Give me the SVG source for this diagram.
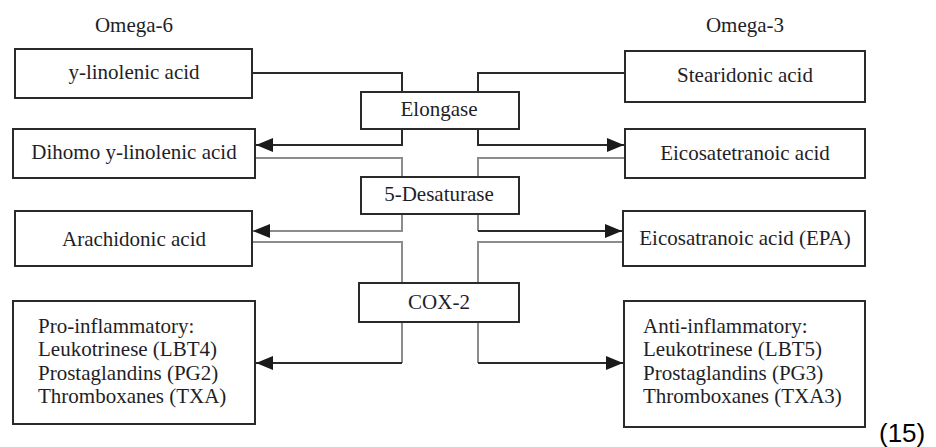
<svg xmlns="http://www.w3.org/2000/svg" width="936" height="447" viewBox="0 0 936 447">
  <style>
    .box { fill: #ffffff; stroke: #2a2a2a; stroke-width: 2; }
    .t { font-family: "Liberation Serif", "Times New Roman", serif; font-size: 21px; fill: #1e1e28; }
    .c { text-anchor: middle; }
    .dark { fill: none; stroke: #2a2a2a; stroke-width: 2; }
    .gray { fill: none; stroke: #8c8c8c; stroke-width: 2; }
  </style>
  <defs>
    <marker id="arr" viewBox="0 0 17 14" refX="17" refY="7" markerWidth="17" markerHeight="14" markerUnits="userSpaceOnUse" orient="auto">
      <path d="M0,0 L17,7 L0,14 z" fill="#1a1a1a"/>
    </marker>
  </defs>
  <rect width="936" height="447" fill="#ffffff"/>

  <text class="t c" x="134" y="32">Omega-6</text>
  <text class="t c" x="745" y="32">Omega-3</text>

  <g id="connectors">
    <path class="dark" d="M252,73 H402 V92"/>
    <path class="dark" d="M625,73 H478 V92"/>
    <path class="dark" d="M402,129 V145 H256" marker-end="url(#arr)"/>
    <path class="dark" d="M478,129 V145 H624" marker-end="url(#arr)"/>
    <path class="gray" d="M255,158 H402 V177"/>
    <path class="gray" d="M625,158 H478 V177"/>
    <path class="gray" d="M402,214 V231 H253" marker-end="url(#arr)"/>
    <path class="gray" d="M478,214 V231"/>
    <path class="dark" d="M478,231 H622" marker-end="url(#arr)"/>
    <path class="gray" d="M252,242 H402 V283"/>
    <path class="gray" d="M623,242 H478 V283"/>
    <path class="gray" d="M402,322 V363"/>
    <path class="dark" d="M402,363 H256" marker-end="url(#arr)"/>
    <path class="gray" d="M478,322 V363"/>
    <path class="dark" d="M478,363 H623" marker-end="url(#arr)"/>
  </g>

  <g id="y-linolenic">
    <rect class="box" x="15" y="49" width="237" height="49"/>
    <text class="t c" x="134" y="79">y-linolenic acid</text>
  </g>
  <g id="dihomo">
    <rect class="box" x="13" y="129" width="242" height="49"/>
    <text class="t c" x="134" y="159">Dihomo y-linolenic acid</text>
  </g>
  <g id="arachidonic">
    <rect class="box" x="15" y="211" width="237" height="55"/>
    <text class="t c" x="134" y="246">Arachidonic acid</text>
  </g>
  <g id="pro-inflammatory">
    <rect class="box" x="13" y="301" width="242" height="123"/>
    <text class="t" x="38" y="333">Pro-inflammatory:</text>
    <text class="t" x="38" y="356">Leukotrinese (LBT4)</text>
    <text class="t" x="38" y="380">Prostaglandins (PG2)</text>
    <text class="t" x="38" y="403">Thromboxanes (TXA)</text>
  </g>

  <g id="elongase">
    <rect class="box" x="361" y="92" width="158" height="37"/>
    <text class="t c" x="439" y="116">Elongase</text>
  </g>
  <g id="desaturase">
    <rect class="box" x="361" y="177" width="158" height="37"/>
    <text class="t c" x="439" y="201">5-Desaturase</text>
  </g>
  <g id="cox2">
    <rect class="box" x="359" y="283" width="160" height="39"/>
    <text class="t c" x="439" y="309">COX-2</text>
  </g>

  <g id="stearidonic">
    <rect class="box" x="625" y="51" width="240" height="51"/>
    <text class="t c" x="745" y="82">Stearidonic acid</text>
  </g>
  <g id="eicosatetranoic">
    <rect class="box" x="625" y="129" width="240" height="49"/>
    <text class="t c" x="745" y="160">Eicosatetranoic acid</text>
  </g>
  <g id="epa">
    <rect class="box" x="623" y="211" width="242" height="55"/>
    <text class="t c" x="745" y="245">Eicosatranoic acid (EPA)</text>
  </g>
  <g id="anti-inflammatory">
    <rect class="box" x="624" y="301" width="241" height="126"/>
    <text class="t" x="643" y="333">Anti-inflammatory:</text>
    <text class="t" x="643" y="356">Leukotrinese (LBT5)</text>
    <text class="t" x="643" y="380">Prostaglandins (PG3)</text>
    <text class="t" x="643" y="403">Thromboxanes (TXA3)</text>
  </g>

  <text x="879" y="442" font-family="Liberation Sans, Arial, sans-serif" font-size="26" fill="#000">(15)</text>
</svg>
